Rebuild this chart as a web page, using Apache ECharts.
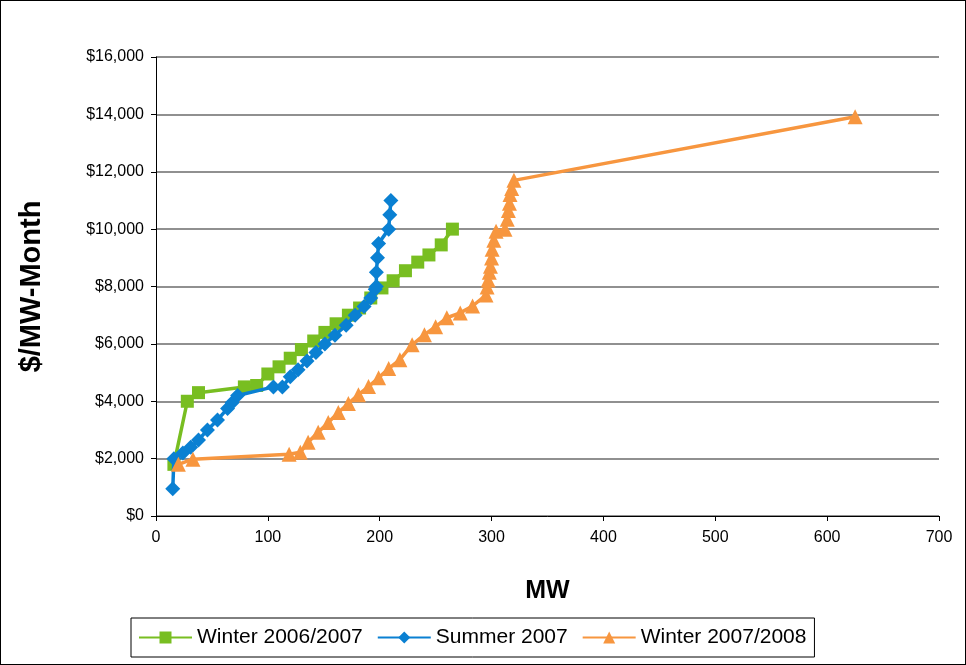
<!DOCTYPE html>
<html>
<head>
<meta charset="utf-8">
<script src="https://cdn.jsdelivr.net/npm/echarts@6/dist/echarts.min.js"></script>
<style>
  html, body { margin: 0; padding: 0; background: #fff; }
  #chart { width: 966px; height: 665px; box-sizing: border-box; border: 1px solid #000; }
</style>
</head>
<body>
<div id="chart"></div>
<script>
// Capacity price curves: [MW, $/MW-Month]
const seriesNames = ['Winter 2006/2007', 'Summer 2007', 'Winter 2007/2008'];

const winter0607 = [
  [16, 1800], [28, 4000], [38, 4300], [79, 4500], [90, 4550], [100, 4950],
  [110, 5200], [120, 5500], [130, 5800], [141, 6100], [151, 6400], [161, 6700],
  [172, 7000], [182, 7250], [192, 7600], [202, 7950], [212, 8200], [223, 8550],
  [234, 8850], [244, 9100], [255, 9450], [265, 10000]
];

const summer07 = [
  [15, 950], [16, 2000], [24, 2200], [31, 2400], [38, 2650], [46, 3000],
  [55, 3350], [64, 3750], [68, 3950], [73, 4200], [105, 4500], [113, 4500],
  [120, 4850], [127, 5100], [135, 5400], [143, 5700], [151, 6000], [160, 6300],
  [170, 6650], [178, 7000], [186, 7300], [192, 7600], [196, 7900], [197, 8000],
  [197, 8500], [198, 9000], [199, 9500], [208, 10000], [209, 10500], [210, 11000]
];

const winter0708 = [
  [20, 1800], [33, 1980], [119, 2150], [129, 2220], [136, 2570], [145, 2920],
  [154, 3260], [163, 3610], [172, 3920], [181, 4230], [190, 4510], [199, 4820],
  [208, 5140], [218, 5450], [229, 5970], [240, 6320], [250, 6600], [260, 6910],
  [272, 7080], [283, 7320], [295, 7700], [296, 7980], [297, 8230], [298, 8500],
  [299, 8710], [300, 8990], [300.5, 9300], [302, 9610], [304, 9930], [312, 10000],
  [314, 10340], [315, 10650], [316, 10900], [316.5, 11210], [318, 11420], [320, 11700],
  [625, 13920]
];

const xTicks = { min: 0, max: 700, interval: 100 };
const yTicks = { min: 0, max: 16000, interval: 2000 };

const colors = ['#78BE21', '#0A80D2', '#F7963F'];
const symbols = ['rect', 'diamond', 'triangle'];
const symbolSizes = [13, 15, 15];
const datasets = [winter0607, summer07, winter0708];

const font = '"Liberation Sans", Arial, sans-serif';

const chart = echarts.init(document.getElementById('chart'));

chart.setOption({
  animation: false,
  textStyle: { fontFamily: font },
  grid: { left: 155, right: 26, top: 56, bottom: 148 },
  xAxis: {
    type: 'value',
    min: xTicks.min, max: xTicks.max, interval: xTicks.interval,
    name: 'MW',
    nameLocation: 'middle',
    nameGap: 63,
    nameTextStyle: { fontSize: 25, fontWeight: 'bold', color: '#000', fontFamily: font },
    axisLine: { show: true, onZero: false, lineStyle: { color: '#000', width: 1 } },
    axisTick: { show: true, length: 5, lineStyle: { color: '#000' } },
    axisLabel: { fontSize: 16, color: '#000', margin: 14, fontFamily: font },
    splitLine: { show: false }
  },
  yAxis: {
    type: 'value',
    min: yTicks.min, max: yTicks.max, interval: yTicks.interval,
    name: '$/MW-Month',
    nameLocation: 'middle',
    nameGap: 110,
    nameRotate: 90,
    nameTextStyle: { fontSize: 29, fontWeight: 'bold', color: '#000', fontFamily: font },
    axisLine: { show: true, lineStyle: { color: '#000', width: 1 } },
    axisTick: { show: true, length: 5, lineStyle: { color: '#000' } },
    axisLabel: {
      fontSize: 16, color: '#000', margin: 12, fontFamily: font,
      formatter: v => '$' + v.toLocaleString('en-US')
    },
    splitLine: { show: true, lineStyle: { color: '#6b6b6b', width: 1.5 } }
  },
  legend: {
    left: 130, top: 617,
    data: seriesNames,
    orient: 'horizontal',
    itemWidth: 53, itemHeight: 15, itemGap: 14,
    borderColor: '#000', borderWidth: 1,
    padding: [9, 8, 9, 7],
    textStyle: { fontSize: 21, color: '#000', fontFamily: font }
  },
  series: datasets.map((d, i) => ({
    name: seriesNames[i],
    type: 'line',
    data: d,
    color: colors[i],
    symbol: symbols[i],
    symbolSize: symbolSizes[i],
    showAllSymbol: true,
    lineStyle: { width: 3.5, color: colors[i] },
    itemStyle: { color: colors[i] },
    z: i === 0 ? 2 : (i === 1 ? 3 : 4)
  }))
});
</script>
</body>
</html>
